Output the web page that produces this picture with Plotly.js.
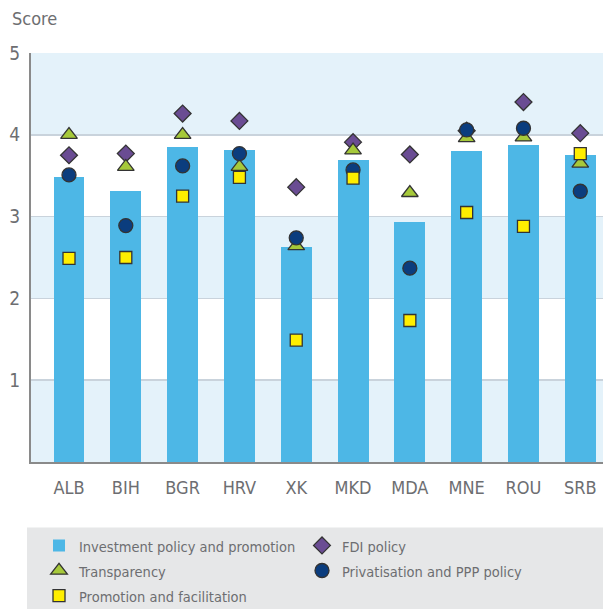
<!DOCTYPE html>
<html>
<head>
<meta charset="utf-8">
<script src="https://cdn.plot.ly/plotly-3.0.1.min.js"></script>
<style>html,body{margin:0;padding:0;background:#fff;}#chart{width:603px;height:609px;}</style>
</head>
<body>
<div id="chart"></div>
<script>
var categories = ["ALB","BIH","BGR","HRV","XK","MKD","MDA","MNE","ROU","SRB"];
var investmentPolicy = [3.48,3.31,3.85,3.82,2.63,3.69,2.93,3.80,3.87,3.75];
var fdiPolicy        = [3.75,3.77,4.26,4.17,3.36,3.91,3.76,4.05,4.40,4.02];
var transparency     = [4.00,3.61,4.00,3.61,2.64,3.81,3.29,3.96,3.97,3.65];
var privatisation    = [3.51,2.89,3.62,3.77,2.74,3.57,2.37,4.06,4.08,3.31];
var promotion        = [2.49,2.50,3.25,3.48,1.49,3.47,1.73,3.05,2.88,3.77];
var yTicks = [1,2,3,4,5];

var FONT = "'Liberation Sans Narrow', 'DejaVu Sans Condensed', Roboto, sans-serif";
var GREY = "#6d6e71";
var OUTLINE = {color:"#333333", width:1.3};
function lg(t){ return '<span style="font-size:14.5px">' + t + '</span>'; }

var traces = [
  {type:"bar", name:lg("Investment policy and promotion"), x:categories, y:investmentPolicy,
   marker:{color:"#4db7e6"}, width:0.545, legendrank:1},
  {type:"scatter", mode:"markers", name:lg("FDI policy"), x:categories, y:fdiPolicy,
   marker:{symbol:"diamond", size:13, color:"#6a4c93", line:OUTLINE}, legendrank:2},
  {type:"scatter", mode:"markers", name:lg("Transparency"), x:categories, y:transparency,
   marker:{symbol:"triangle-up", size:14.5, color:"#a6c93a", line:OUTLINE}, legendrank:3},
  {type:"scatter", mode:"markers", name:lg("Privatisation and PPP policy"), x:categories, y:privatisation,
   marker:{symbol:"circle", size:14, color:"#0b3d7e", line:OUTLINE}, legendrank:4},
  {type:"scatter", mode:"markers", name:lg("Promotion and facilitation"), x:categories, y:promotion,
   marker:{symbol:"square", size:12, color:"#ffee00", line:OUTLINE}, legendrank:5}
];

var bandColor = "#e4f2fa";
var shapes = [];
[[0,1],[2,3],[4,5]].forEach(function(b){
  shapes.push({type:"rect", layer:"below", xref:"paper", yref:"y", x0:0, x1:1, y0:b[0], y1:b[1],
    fillcolor:bandColor, line:{width:0}});
});
shapes.push({type:"rect", layer:"below", xref:"paper", yref:"paper", x0:-0.007, x1:1.01, y0:-0.37, y1:-0.16,
  fillcolor:"#e6e7e8", line:{width:0}});

var layout = {
  width:603, height:609,
  margin:{l:31, r:0, t:53, b:147, autoexpand:false},
  paper_bgcolor:"#ffffff", plot_bgcolor:"#ffffff",
  font:{family:FONT, color:GREY, size:17},
  showlegend:true,
  bargap:0,
  xaxis:{type:"category", range:[-0.669, 9.40], showgrid:false, showline:true, linecolor:"#8a8a8a", linewidth:2,
    ticks:"", tickfont:{family:FONT, size:18, color:GREY}, ticklabelstandoff:8, fixedrange:true},
  yaxis:{range:[0,5], tickvals:yTicks, ticktext:yTicks.map(String), showgrid:true, gridcolor:"#c9d3dc", gridwidth:1.5,
    showline:true, linecolor:"#8a8a8a", linewidth:2, zeroline:false, ticks:"",
    tickfont:{family:FONT, size:19, color:GREY}, ticklabelstandoff:5, fixedrange:true},
  legend:{orientation:"h", x:0.014, xanchor:"left", y:-0.161, yanchor:"top", bgcolor:"rgba(0,0,0,0)",
    font:{family:FONT, size:17, color:GREY}, entrywidth:218, entrywidthmode:"pixels", traceorder:"normal"},
  shapes:shapes,
  annotations:[{text:"Score", xref:"paper", yref:"paper", x:-0.0367, y:1.0846, xanchor:"left", yanchor:"middle",
    showarrow:false, font:{family:FONT, size:18, color:GREY}}]
};

Plotly.newPlot("chart", traces, layout, {staticPlot:true, displayModeBar:false});
</script>
</body>
</html>
